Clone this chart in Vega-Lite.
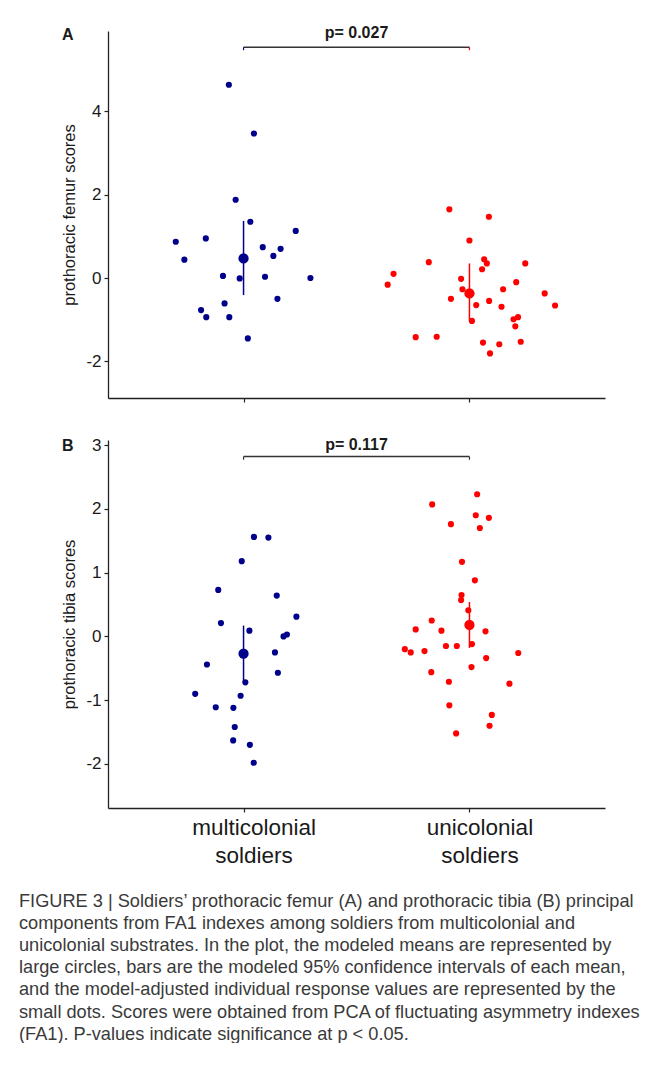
{
  "$schema": "https://vega.github.io/schema/vega-lite/v6.json",
  "background": "white",
  "padding": {"left": 19, "top": 25, "right": 0, "bottom": 0},
  "spacing": 33,
  "title": {
    "text": [
      "FIGURE 3 | Soldiers’ prothoracic femur (A) and prothoracic tibia (B) principal",
      "components from FA1 indexes among soldiers from multicolonial and",
      "unicolonial substrates. In the plot, the modeled means are represented by",
      "large circles, bars are the modeled 95% confidence intervals of each mean,",
      "and the model-adjusted individual response values are represented by the",
      "small dots. Scores were obtained from PCA of fluctuating asymmetry indexes",
      "(FA1). P-values indicate significance at p < 0.05."
    ],
    "orient": "bottom",
    "anchor": "start",
    "frame": "group",
    "dx": -89,
    "offset": 26,
    "font": "Liberation Sans",
    "fontSize": 18.2,
    "fontWeight": "normal",
    "lineHeight": 22.2,
    "color": "#3a3a3a"
  },
  "datasets": {
    "femur": [
      {"group": "multicolonial", "x": 0.935, "score": 4.64},
      {"group": "multicolonial", "x": 1.046, "score": 3.47},
      {"group": "multicolonial", "x": 0.965, "score": 1.88},
      {"group": "multicolonial", "x": 1.030, "score": 1.35},
      {"group": "multicolonial", "x": 1.231, "score": 1.13},
      {"group": "multicolonial", "x": 0.700, "score": 0.87},
      {"group": "multicolonial", "x": 0.833, "score": 0.95},
      {"group": "multicolonial", "x": 1.085, "score": 0.74},
      {"group": "multicolonial", "x": 1.164, "score": 0.70},
      {"group": "multicolonial", "x": 0.738, "score": 0.44},
      {"group": "multicolonial", "x": 1.132, "score": 0.53},
      {"group": "multicolonial", "x": 0.909, "score": 0.05},
      {"group": "multicolonial", "x": 0.983, "score": -0.01},
      {"group": "multicolonial", "x": 1.095, "score": 0.03},
      {"group": "multicolonial", "x": 1.296, "score": 0.0},
      {"group": "multicolonial", "x": 0.916, "score": -0.61},
      {"group": "multicolonial", "x": 1.150, "score": -0.50},
      {"group": "multicolonial", "x": 0.812, "score": -0.77},
      {"group": "multicolonial", "x": 0.835, "score": -0.94},
      {"group": "multicolonial", "x": 0.937, "score": -0.94},
      {"group": "multicolonial", "x": 1.019, "score": -1.45},
      {"group": "unicolonial", "x": 1.911, "score": 1.65},
      {"group": "unicolonial", "x": 2.086, "score": 1.47},
      {"group": "unicolonial", "x": 2.000, "score": 0.90},
      {"group": "unicolonial", "x": 1.820, "score": 0.38},
      {"group": "unicolonial", "x": 1.664, "score": 0.10},
      {"group": "unicolonial", "x": 1.638, "score": -0.16},
      {"group": "unicolonial", "x": 2.065, "score": 0.45},
      {"group": "unicolonial", "x": 2.077, "score": 0.35},
      {"group": "unicolonial", "x": 2.247, "score": 0.35},
      {"group": "unicolonial", "x": 2.056, "score": 0.21},
      {"group": "unicolonial", "x": 1.963, "score": -0.02},
      {"group": "unicolonial", "x": 2.207, "score": -0.10},
      {"group": "unicolonial", "x": 1.969, "score": -0.27},
      {"group": "unicolonial", "x": 2.149, "score": -0.27},
      {"group": "unicolonial", "x": 1.918, "score": -0.50},
      {"group": "unicolonial", "x": 2.333, "score": -0.37},
      {"group": "unicolonial", "x": 2.379, "score": -0.66},
      {"group": "unicolonial", "x": 2.030, "score": -0.65},
      {"group": "unicolonial", "x": 2.087, "score": -0.55},
      {"group": "unicolonial", "x": 2.142, "score": -0.69},
      {"group": "unicolonial", "x": 2.011, "score": -1.03},
      {"group": "unicolonial", "x": 2.215, "score": -0.94},
      {"group": "unicolonial", "x": 2.195, "score": -0.99},
      {"group": "unicolonial", "x": 2.203, "score": -1.16},
      {"group": "unicolonial", "x": 1.762, "score": -1.42},
      {"group": "unicolonial", "x": 1.855, "score": -1.41},
      {"group": "unicolonial", "x": 2.060, "score": -1.55},
      {"group": "unicolonial", "x": 2.132, "score": -1.59},
      {"group": "unicolonial", "x": 2.227, "score": -1.53},
      {"group": "unicolonial", "x": 2.091, "score": -1.81}
    ],
    "femurMeans": [
      {"group": "multicolonial", "x": 1, "mean": 0.47, "lo": -0.41, "hi": 1.37},
      {"group": "unicolonial", "x": 2, "mean": -0.37, "lo": -1.03, "hi": 0.35}
    ],
    "femurSig": [
      {"label": "p= 0.027", "x1": 1, "x2": 2, "mid": 1.5, "bar": 5.54, "tickEnd": 5.47, "textY": 5.88}
    ],
    "femurEnds": [
      {"group": "multicolonial", "x": 1, "bar": 5.54, "tickEnd": 5.47},
      {"group": "unicolonial", "x": 2, "bar": 5.54, "tickEnd": 5.47}
    ],
    "tibia": [
      {"group": "multicolonial", "x": 1.046, "score": 1.56},
      {"group": "multicolonial", "x": 1.110, "score": 1.55},
      {"group": "multicolonial", "x": 0.992, "score": 1.18},
      {"group": "multicolonial", "x": 0.888, "score": 0.73},
      {"group": "multicolonial", "x": 1.147, "score": 0.64},
      {"group": "multicolonial", "x": 0.900, "score": 0.21},
      {"group": "multicolonial", "x": 1.234, "score": 0.31},
      {"group": "multicolonial", "x": 1.026, "score": 0.09},
      {"group": "multicolonial", "x": 1.177, "score": 0.0},
      {"group": "multicolonial", "x": 1.192, "score": 0.03},
      {"group": "multicolonial", "x": 1.139, "score": -0.25},
      {"group": "multicolonial", "x": 0.838, "score": -0.44},
      {"group": "multicolonial", "x": 1.152, "score": -0.57},
      {"group": "multicolonial", "x": 1.008, "score": -0.72},
      {"group": "multicolonial", "x": 0.786, "score": -0.90},
      {"group": "multicolonial", "x": 0.987, "score": -0.93},
      {"group": "multicolonial", "x": 0.877, "score": -1.11},
      {"group": "multicolonial", "x": 0.955, "score": -1.12},
      {"group": "multicolonial", "x": 0.961, "score": -1.42},
      {"group": "multicolonial", "x": 0.954, "score": -1.63},
      {"group": "multicolonial", "x": 1.028, "score": -1.70},
      {"group": "multicolonial", "x": 1.045, "score": -1.98},
      {"group": "unicolonial", "x": 2.034, "score": 2.23},
      {"group": "unicolonial", "x": 1.835, "score": 2.07},
      {"group": "unicolonial", "x": 2.028, "score": 1.90},
      {"group": "unicolonial", "x": 2.086, "score": 1.86},
      {"group": "unicolonial", "x": 1.918, "score": 1.76},
      {"group": "unicolonial", "x": 2.046, "score": 1.70},
      {"group": "unicolonial", "x": 1.967, "score": 1.17},
      {"group": "unicolonial", "x": 2.024, "score": 0.88},
      {"group": "unicolonial", "x": 1.965, "score": 0.65},
      {"group": "unicolonial", "x": 1.963, "score": 0.57},
      {"group": "unicolonial", "x": 1.995, "score": 0.41},
      {"group": "unicolonial", "x": 1.833, "score": 0.25},
      {"group": "unicolonial", "x": 1.762, "score": 0.11},
      {"group": "unicolonial", "x": 1.876, "score": 0.09},
      {"group": "unicolonial", "x": 2.071, "score": 0.08},
      {"group": "unicolonial", "x": 1.714, "score": -0.20},
      {"group": "unicolonial", "x": 1.740, "score": -0.25},
      {"group": "unicolonial", "x": 1.801, "score": -0.23},
      {"group": "unicolonial", "x": 1.896, "score": -0.15},
      {"group": "unicolonial", "x": 1.944, "score": -0.15},
      {"group": "unicolonial", "x": 2.011, "score": -0.12},
      {"group": "unicolonial", "x": 2.216, "score": -0.26},
      {"group": "unicolonial", "x": 2.074, "score": -0.34},
      {"group": "unicolonial", "x": 2.009, "score": -0.48},
      {"group": "unicolonial", "x": 1.831, "score": -0.56},
      {"group": "unicolonial", "x": 1.909, "score": -0.71},
      {"group": "unicolonial", "x": 2.177, "score": -0.74},
      {"group": "unicolonial", "x": 1.911, "score": -1.08},
      {"group": "unicolonial", "x": 2.099, "score": -1.23},
      {"group": "unicolonial", "x": 2.089, "score": -1.40},
      {"group": "unicolonial", "x": 1.941, "score": -1.52}
    ],
    "tibiaMeans": [
      {"group": "multicolonial", "x": 1, "mean": -0.27, "lo": -0.71, "hi": 0.17},
      {"group": "unicolonial", "x": 2, "mean": 0.18, "lo": -0.18, "hi": 0.54}
    ],
    "tibiaSig": [
      {"label": "p= 0.117", "x1": 1, "x2": 2, "mid": 1.5, "bar": 2.82, "tickEnd": 2.77, "textY": 3.0}
    ]
  },
  "vconcat": [
    {
      "width": 497,
      "height": 367,
      "title": {"text": "A", "anchor": "start", "frame": "group", "dx": -46, "offset": -18, "fontSize": 16, "fontWeight": "bold", "color": "#1a1a1a", "font": "Liberation Sans"},
      "layer": [
        {
          "data": {"name": "femur"},
          "mark": {"type": "circle", "size": 38, "opacity": 1},
          "encoding": {
            "x": {"field": "x", "type": "quantitative", "scale": {"domain": [0.4, 2.6], "nice": false, "zero": false},
                  "axis": {"values": [1, 2], "labels": false, "title": null}},
            "y": {"field": "score", "type": "quantitative", "scale": {"domain": [-2.88, 5.93], "nice": false, "zero": false},
                  "axis": {"values": [-2, 0, 2, 4], "labelExpr": "'' + datum.value", "title": "prothoracic femur scores"}},
            "color": {"field": "group", "type": "nominal", "scale": {"domain": ["multicolonial", "unicolonial"], "range": ["#00008B", "#FF0000"]}, "legend": null}
          }
        },
        {
          "data": {"name": "femurMeans"},
          "mark": {"type": "rule", "strokeWidth": 1.5},
          "encoding": {
            "x": {"field": "x", "type": "quantitative"},
            "y": {"field": "lo", "type": "quantitative"},
            "y2": {"field": "hi"},
            "color": {"field": "group", "type": "nominal"}
          }
        },
        {
          "data": {"name": "femurMeans"},
          "mark": {"type": "circle", "size": 105, "opacity": 1},
          "encoding": {
            "x": {"field": "x", "type": "quantitative"},
            "y": {"field": "mean", "type": "quantitative"},
            "color": {"field": "group", "type": "nominal"}
          }
        },
        {
          "data": {"name": "femurSig"},
          "mark": {"type": "rule", "strokeWidth": 1.5, "color": "#333333"},
          "encoding": {
            "x": {"field": "x1", "type": "quantitative"},
            "x2": {"field": "x2"},
            "y": {"field": "bar", "type": "quantitative"}
          }
        },
        {
          "data": {"name": "femurEnds"},
          "mark": {"type": "rule", "strokeWidth": 1.2},
          "encoding": {
            "x": {"field": "x", "type": "quantitative"},
            "y": {"field": "bar", "type": "quantitative"},
            "y2": {"field": "tickEnd"},
            "color": {"field": "group", "type": "nominal"}
          }
        },
        {
          "data": {"name": "femurSig"},
          "mark": {"type": "text", "fontSize": 16, "fontWeight": "bold", "color": "#1a1a1a", "font": "Liberation Sans", "baseline": "middle", "align": "center"},
          "encoding": {
            "x": {"field": "mid", "type": "quantitative"},
            "y": {"field": "textY", "type": "quantitative"},
            "text": {"field": "label"}
          }
        }
      ]
    },
    {
      "width": 497,
      "height": 368,
      "title": {"text": "B", "anchor": "start", "frame": "group", "dx": -46, "offset": -18, "fontSize": 16, "fontWeight": "bold", "color": "#1a1a1a", "font": "Liberation Sans"},
      "layer": [
        {
          "data": {"name": "tibia"},
          "mark": {"type": "circle", "size": 38, "opacity": 1},
          "encoding": {
            "x": {"field": "x", "type": "quantitative", "scale": {"domain": [0.4, 2.6], "nice": false, "zero": false},
                  "axis": {"values": [1, 2], "title": null, "labelFontSize": 22.5, "labelColor": "#1a1a1a", "labelOffset": 10, "labelPadding": 4, "labelLineHeight": 28,
                           "labelExpr": "datum.value == 1 ? ['multicolonial', 'soldiers'] : ['unicolonial', 'soldiers']"}},
            "y": {"field": "score", "type": "quantitative", "scale": {"domain": [-2.69, 3.08], "nice": false, "zero": false},
                  "axis": {"values": [-2, -1, 0, 1, 2, 3], "labelExpr": "'' + datum.value", "title": "prothoracic tibia scores"}},
            "color": {"field": "group", "type": "nominal", "scale": {"domain": ["multicolonial", "unicolonial"], "range": ["#00008B", "#FF0000"]}, "legend": null}
          }
        },
        {
          "data": {"name": "tibiaMeans"},
          "mark": {"type": "rule", "strokeWidth": 1.5},
          "encoding": {
            "x": {"field": "x", "type": "quantitative"},
            "y": {"field": "lo", "type": "quantitative"},
            "y2": {"field": "hi"},
            "color": {"field": "group", "type": "nominal"}
          }
        },
        {
          "data": {"name": "tibiaMeans"},
          "mark": {"type": "circle", "size": 105, "opacity": 1},
          "encoding": {
            "x": {"field": "x", "type": "quantitative"},
            "y": {"field": "mean", "type": "quantitative"},
            "color": {"field": "group", "type": "nominal"}
          }
        },
        {
          "data": {"name": "tibiaSig"},
          "mark": {"type": "rule", "strokeWidth": 1.5, "color": "#333333"},
          "encoding": {
            "x": {"field": "x1", "type": "quantitative"},
            "x2": {"field": "x2"},
            "y": {"field": "bar", "type": "quantitative"}
          }
        },
        {
          "data": {"name": "tibiaSig"},
          "mark": {"type": "rule", "strokeWidth": 1.2, "color": "#333333"},
          "encoding": {
            "x": {"field": "x1", "type": "quantitative"},
            "y": {"field": "bar", "type": "quantitative"},
            "y2": {"field": "tickEnd"}
          }
        },
        {
          "data": {"name": "tibiaSig"},
          "mark": {"type": "rule", "strokeWidth": 1.2, "color": "#333333"},
          "encoding": {
            "x": {"field": "x2", "type": "quantitative"},
            "y": {"field": "bar", "type": "quantitative"},
            "y2": {"field": "tickEnd"}
          }
        },
        {
          "data": {"name": "tibiaSig"},
          "mark": {"type": "text", "fontSize": 16, "fontWeight": "bold", "color": "#1a1a1a", "font": "Liberation Sans", "baseline": "middle", "align": "center"},
          "encoding": {
            "x": {"field": "mid", "type": "quantitative"},
            "y": {"field": "textY", "type": "quantitative"},
            "text": {"field": "label"}
          }
        }
      ]
    }
  ],
  "config": {
    "view": {"stroke": null},
    "font": "Liberation Sans",
    "axis": {
      "grid": false,
      "domainColor": "#222222",
      "domainWidth": 1.3,
      "tickColor": "#222222",
      "tickWidth": 1.2,
      "tickSize": 4,
      "labelFont": "Liberation Sans",
      "labelFontSize": 17,
      "labelColor": "#1a1a1a",
      "labelPadding": 3,
      "titleFont": "Liberation Sans",
      "titleFontSize": 16.5,
      "titleFontWeight": "normal",
      "titleColor": "#1a1a1a",
      "titlePadding": 8
    }
  }
}
